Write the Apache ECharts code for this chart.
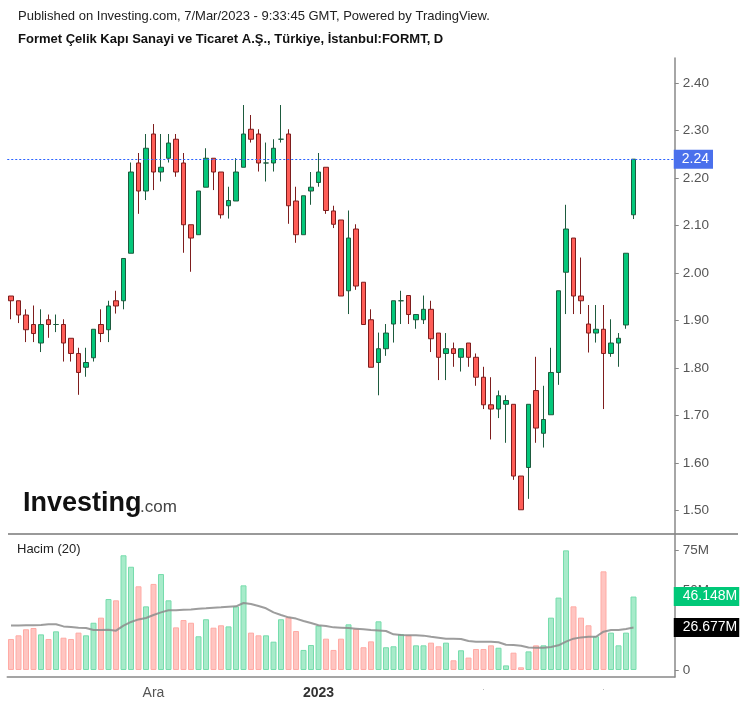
<!DOCTYPE html>
<html>
<head>
<meta charset="utf-8">
<title>FORMT</title>
<script src="https://cdn.jsdelivr.net/npm/echarts/dist/echarts.min.js"></script>
<style>
	html,body{margin:0;padding:0;background:#fff;}
	#chart{width:746px;height:707px;}
</style>
</head>
<body>
<div id="chart"></div>
<script>
	// daily candles
	var open  = [1.952,1.942,1.912,1.892,1.853,1.902,1.892,1.892,1.863,1.831,1.802,1.822,1.892,1.881,1.942,1.942,2.042,2.232,2.173,2.293,
	             2.213,2.242,2.282,2.232,2.102,2.081,2.181,2.242,2.213,2.142,2.152,2.223,2.303,2.293,2.232,2.232,2.282,2.293,2.152,2.081,
	             2.173,2.191,2.223,2.131,2.112,1.963,2.093,1.981,1.902,1.812,1.841,1.893,1.942,1.953,1.902,1.902,1.924,1.874,1.831,1.841,
	             1.823,1.853,1.823,1.781,1.723,1.714,1.724,1.724,1.573,1.591,1.753,1.663,1.702,1.791,2.002,2.074,1.952,1.893,1.874,1.882,
	             1.831,1.853,1.891,2.123];
	var close = [1.942,1.912,1.881,1.873,1.892,1.892,1.892,1.853,1.831,1.791,1.812,1.882,1.873,1.931,1.931,2.031,2.213,2.173,2.263,2.213,
	             2.223,2.274,2.213,2.102,2.074,2.173,2.242,2.213,2.123,2.153,2.213,2.293,2.282,2.232,2.232,2.263,2.282,2.142,2.081,2.163,
	             2.181,2.213,2.132,2.103,1.952,2.074,1.973,1.892,1.802,1.841,1.874,1.942,1.942,1.913,1.913,1.924,1.862,1.823,1.841,1.831,
	             1.841,1.823,1.781,1.723,1.714,1.742,1.732,1.573,1.502,1.724,1.674,1.692,1.791,1.963,2.093,1.952,1.942,1.874,1.882,1.831,
	             1.853,1.863,2.042,2.24];
	var low   = [1.903,1.895,1.855,1.855,1.834,1.864,1.876,1.814,1.814,1.744,1.782,1.814,1.855,1.855,1.915,1.924,2.042,2.125,2.154,2.175,
	             2.193,2.233,2.203,2.043,2.003,2.081,2.181,2.175,2.115,2.115,2.152,2.223,2.275,2.214,2.193,2.214,2.275,2.104,2.064,2.081,
	             2.144,2.182,2.125,2.095,1.952,1.914,1.965,1.892,1.802,1.743,1.826,1.854,1.893,1.893,1.883,1.893,1.834,1.775,1.775,1.803,
	             1.793,1.803,1.763,1.714,1.650,1.695,1.643,1.565,1.502,1.525,1.643,1.633,1.702,1.765,1.914,1.914,1.914,1.833,1.854,1.714,
	             1.824,1.803,1.883,2.114];
	var high  = [1.952,1.942,1.924,1.932,1.924,1.913,1.913,1.903,1.863,1.843,1.843,1.882,1.924,1.942,1.963,2.031,2.233,2.253,2.293,2.314,
	             2.293,2.293,2.293,2.253,2.102,2.173,2.263,2.242,2.213,2.182,2.242,2.354,2.333,2.303,2.275,2.282,2.354,2.303,2.182,2.163,
	             2.213,2.253,2.223,2.142,2.112,2.132,2.103,1.981,1.924,1.875,1.893,1.942,1.963,1.953,1.913,1.953,1.942,1.874,1.874,1.854,
	             1.841,1.853,1.831,1.803,1.781,1.753,1.743,1.724,1.573,1.724,1.824,1.763,1.843,1.963,2.144,2.074,2.033,1.933,1.933,1.933,
	             1.903,1.874,2.042,2.24];
	// volume in millions and its 20 day average
	var volume = [19.5,21.8,25.6,26.4,22.4,19.5,24.3,20.3,19.5,23.5,21.8,29.7,32.9,44.6,43.8,72.1,64.9,52.6,40.0,54.1,
	              60.3,43.8,26.8,31.4,29.7,21.2,31.9,26.6,28.1,27.4,40.0,53.2,23.5,21.8,21.8,17.8,31.9,33.1,24.5,12.6,
	              15.7,27.9,19.7,12.6,19.7,28.7,25.8,14.3,18.0,30.6,14.3,14.9,22.6,21.8,15.5,15.5,17.2,14.9,17.2,6.1,
	              12.4,7.8,13.2,13.2,15.5,14.0,2.9,10.9,1.7,11.7,15.5,15.5,32.9,45.5,75.2,40.0,32.9,28.1,21.2,62.0,
	              23.5,15.5,23.5,46.148];
	var volumeMA = [27.9,27.9,28.1,28.1,28.3,28.7,28.7,27.4,27.0,26.6,26.4,25.1,25.1,25.3,24.7,27.9,30.2,31.8,32.7,34.6,
	                36.2,37.5,37.5,37.9,38.1,38.5,38.8,39.2,39.4,39.8,40.0,42.1,41.5,40.2,38.8,36.2,34.6,33.1,32.3,30.8,
	                29.5,28.1,27.7,26.8,26.6,26.4,26.0,25.6,25.1,24.9,24.5,22.4,22.0,21.8,21.8,21.6,20.9,20.3,19.7,19.7,
	                19.5,18.2,17.8,17.8,17.8,17.4,15.9,15.7,15.3,14.2,14.0,14.0,14.5,15.5,17.8,19.7,20.5,20.9,20.9,24.1,
	                25.1,25.1,25.8,26.677];
	var priceTicks = [1.5,1.6,1.7,1.8,1.9,2.0,2.1,2.2,2.3,2.4];
	var volumeTicks = [0,25,50,75];
	var dateTickIndex = [19,41,63,79];
	var dateTickText = ['Ara','{b|2023}','{d|·}','{d|·}'];
	var emptyBars = 5;

	var categories = [];
	for(var i=0;i<open.length+emptyBars;i++){
		categories.push(String(i));
	}
	var candles = [];
	var volBars = [];
	for(var i=0;i<open.length;i++){
		candles.push([open[i],close[i],low[i],high[i]]);
		var up = close[i]>=open[i];
		volBars.push({
			value: volume[i],
			itemStyle: up ? {color:'#a7ebca',borderColor:'#76dcac'} : {color:'#ffc5c1',borderColor:'#ffaba5'}
		});
	}
	var lastClose = close[close.length-1];
	var lastVol = volume[volume.length-1];
	var lastMA = volumeMA[volumeMA.length-1];

	function isDateTick(idx){
		return dateTickIndex.indexOf(idx)>=0;
	}
	// price / volume tag on the right axis
	function tag(text,bg,pad){
		return {show:true,position:'end',formatter:text,color:'#fff',backgroundColor:bg,fontSize:14,padding:pad,distance:-1};
	}

	var myChart = echarts.init(document.getElementById('chart'));
	var font = 'Liberation Sans, Arial, sans-serif';
	option = {
		animation: false,
		textStyle: {fontFamily: font},
		graphic: [
			{type:'text',left:18,top:10,style:{text:'Published on Investing.com, 7/Mar/2023 - 9:33:45 GMT, Powered by TradingView.',font:'13px '+font,fill:'#222'}},
			{type:'text',left:18,top:33,style:{text:'Formet Çelik Kapı Sanayi ve Ticaret A.Ş., Türkiye, İstanbul:FORMT, D',font:'bold 13px '+font,fill:'#111'}},
			{type:'line',shape:{x1:8,y1:534,x2:738,y2:534},style:{stroke:'#777',lineWidth:1.5}},
			{type:'text',left:17,top:543,style:{text:'Hacim (20)',font:'13px '+font,fill:'#222'}},
			{type:'text',left:23,top:490,style:{text:'Investing',font:'bold 27px '+font,fill:'#111'}},
			{type:'text',left:140,top:499,style:{text:'.com',font:'17px '+font,fill:'#444'}}
		],
		grid: [
			{left:7.25,right:71.25,top:58,height:476},
			{left:7.25,right:71.25,top:534,height:143}
		],
		xAxis: [
			{type:'category',gridIndex:0,data:categories,show:false,boundaryGap:true},
			{
				type:'category',gridIndex:1,data:categories,boundaryGap:true,
				axisLine:{onZero:false,lineStyle:{color:'#888',width:1.5}},
				axisTick:{alignWithLabel:true,length:5,interval:function(idx){return isDateTick(idx);},lineStyle:{color:'#888',width:1.5}},
				axisLabel:{
					interval:function(idx){return isDateTick(idx);},
					formatter:function(v,idx){
						var k=dateTickIndex.indexOf(idx);
						return k>=0 ? dateTickText[k] : '';
					},
					color:'#555',fontSize:14,margin:9,
					rich:{b:{fontWeight:'bold',color:'#333',fontSize:14},d:{color:'#aaa',fontSize:8}}
				}
			}
		],
		yAxis: [
			{
				type:'value',gridIndex:0,position:'right',min:1.451,max:2.453,
				splitLine:{show:false},
				axisLine:{show:true,lineStyle:{color:'#888',width:1.5}},
				axisTick:{show:true,length:4,customValues:priceTicks,lineStyle:{color:'#888'}},
				axisLabel:{customValues:priceTicks,formatter:function(v){return v.toFixed(2);},color:'#555',fontSize:13.5,margin:8}
			},
			{
				type:'value',gridIndex:1,position:'right',min:-4.4,max:85.48,
				splitLine:{show:false},
				axisLine:{show:true,lineStyle:{color:'#888',width:1.5}},
				axisTick:{show:true,length:4,customValues:volumeTicks,lineStyle:{color:'#888'}},
				axisLabel:{customValues:volumeTicks,formatter:function(v){return v===0?'0':v+'M';},color:'#555',fontSize:13.5,margin:8}
			}
		],
		series: [
			{
				name:'FORMT',type:'candlestick',xAxisIndex:0,yAxisIndex:0,
				data:candles,barWidth:5,
				itemStyle:{color:'#04c77a',color0:'#ff5d57',borderColor:'#1d5b3e',borderColor0:'#7e1d1d',borderWidth:1},
				markLine:{
					silent:true,symbol:'none',
					lineStyle:{color:'#2962ff',type:[2,2],width:1},
					label:tag(lastClose.toFixed(2),'#4a70ec',[3,4,2,8]),
					data:[{yAxis:lastClose}]
				}
			},
			{
				name:'Hacim',type:'bar',xAxisIndex:1,yAxisIndex:1,
				data:volBars,barWidth:6,
				itemStyle:{borderWidth:1},
				markLine:{
					silent:true,symbol:'none',
					lineStyle:{color:'rgba(0,0,0,0)',width:1},
					label:tag(lastVol.toFixed(3)+'M','#00c878',[3,2,2,9]),
					data:[{yAxis:lastVol}]
				}
			},
			{
				name:'Hacim (20)',type:'line',xAxisIndex:1,yAxisIndex:1,
				data:volumeMA,symbol:'none',smooth:false,
				lineStyle:{color:'#8c8c8c',width:2,opacity:0.85},
				markLine:{
					silent:true,symbol:'none',
					lineStyle:{color:'rgba(0,0,0,0)',width:1},
					label:tag(lastMA.toFixed(3)+'M','#000',[3,2,2,9]),
					data:[{yAxis:lastMA}]
				}
			}
		]
	};
	myChart.setOption(option);
</script>
</body>
</html>
